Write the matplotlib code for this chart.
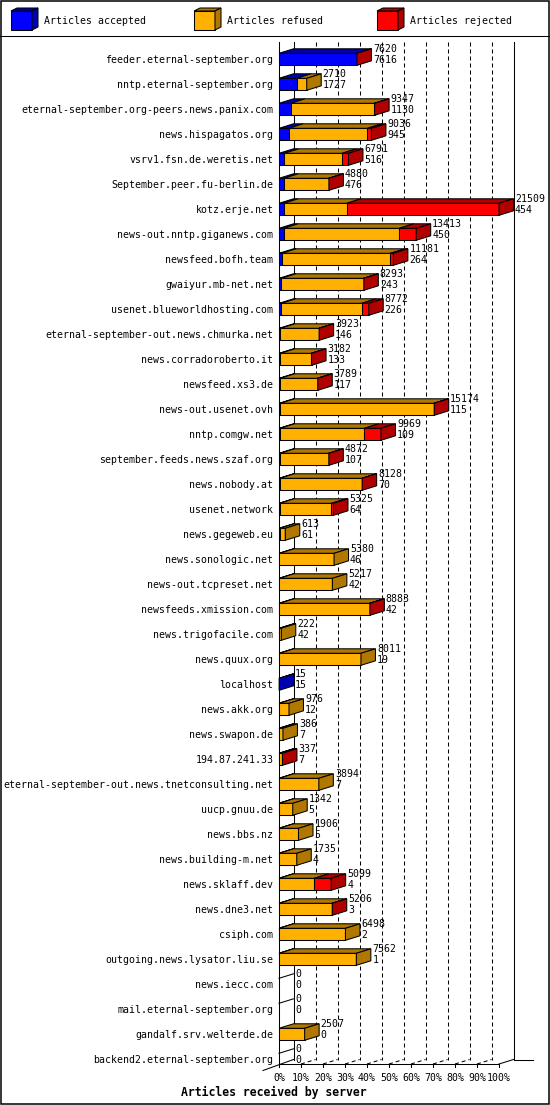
import matplotlib
matplotlib.use("Agg")
import matplotlib.pyplot as plt
from matplotlib.patches import Polygon, Rectangle

servers = [
    "feeder.eternal-september.org", "nntp.eternal-september.org",
    "eternal-september.org-peers.news.panix.com", "news.hispagatos.org",
    "vsrv1.fsn.de.weretis.net", "September.peer.fu-berlin.de", "kotz.erje.net",
    "news-out.nntp.giganews.com", "newsfeed.bofh.team", "gwaiyur.mb-net.net",
    "usenet.blueworldhosting.com", "eternal-september-out.news.chmurka.net",
    "news.corradoroberto.it", "newsfeed.xs3.de", "news-out.usenet.ovh",
    "nntp.comgw.net", "september.feeds.news.szaf.org", "news.nobody.at",
    "usenet.network", "news.gegeweb.eu", "news.sonologic.net",
    "news-out.tcpreset.net", "newsfeeds.xmission.com", "news.trigofacile.com",
    "news.quux.org", "localhost", "news.akk.org", "news.swapon.de",
    "194.87.241.33", "eternal-september-out.news.tnetconsulting.net",
    "uucp.gnuu.de", "news.bbs.nz", "news.building-m.net", "news.sklaff.dev",
    "news.dne3.net", "csiph.com", "outgoing.news.lysator.liu.se",
    "news.iecc.com", "mail.eternal-september.org", "gandalf.srv.welterde.de",
    "backend2.eternal-september.org",
]
total = [7620, 2710, 9347, 9036, 6791, 4880, 21509, 13413, 11181, 8293,
         8772, 3923, 3182, 3789, 15174, 9969, 4872, 8128, 5325, 613,
         5380, 5217, 8883, 222, 8011, 15, 976, 386, 337, 3894,
         1342, 1906, 1735, 5099, 5206, 6498, 7562, 0, 0, 2507, 0]
accepted = [7616, 1727, 1130, 945, 516, 476, 454, 450, 264, 243,
            226, 146, 133, 117, 115, 109, 107, 70, 64, 61,
            46, 42, 42, 42, 19, 15, 12, 7, 7, 7,
            5, 5, 4, 4, 3, 2, 1, 0, 0, 0, 0]
refused = [0, 983, 8187, 7701, 5655, 4379, 6165, 11303, 10627, 8020,
           7861, 3752, 3029, 3652, 15029, 8230, 4745, 8038, 5066, 552,
           5334, 5175, 8821, 180, 7992, 0, 964, 379, 320, 3887,
           1337, 1901, 1731, 3435, 5180, 6496, 7561, 0, 0, 2507, 0]
rejected = [4, 0, 30, 390, 620, 25, 14890, 1660, 290, 30,
            685, 25, 20, 20, 30, 1630, 20, 20, 195, 0,
            0, 0, 20, 0, 0, 0, 0, 0, 10, 0,
            0, 0, 0, 1660, 23, 0, 0, 0, 0, 0, 0]

series_names = ["Articles accepted", "Articles refused", "Articles rejected"]
front_colors = ["#0000ff", "#ffb000", "#ff0000"]
dark_colors = ["#0000b0", "#b07800", "#b00000"]
tick_labels = ["0%", "10%", "20%", "30%", "40%", "50%",
               "60%", "70%", "80%", "90%", "100%"]
x_title = "Articles received by server"

plt.rcParams['font.family'] = ['DejaVu Sans Mono']
plt.rcParams['font.size'] = 7.1
plt.rcParams['lines.scale_dashes'] = False

W, H = 550, 1105
LW = 0.75
fig = plt.figure(figsize=(W / 100, H / 100), dpi=100)

# background axes in pixel units for frame and legend
bg = fig.add_axes([0, 0, 1, 1])
bg.set_xlim(0, W)
bg.set_ylim(H, 0)
bg.axis('off')
bg.add_patch(Rectangle((0.7, 0.7), W - 1.6, H - 1.6, fill=False, lw=1.1, ec='black'))
bg.plot([0, W], [35.5, 35.5], color='black', lw=LW)

for k in range(3):
    x0 = 11 + 183 * k
    y0, y1 = 11, 30
    w, dx, dy = 21, 6, -3
    bg.add_patch(Polygon([(x0, y0), (x0 + w, y0), (x0 + w, y1), (x0, y1)],
                         fc=front_colors[k], ec='black', lw=LW))
    bg.add_patch(Polygon([(x0, y0), (x0 + w, y0), (x0 + w + dx, y0 + dy), (x0 + dx, y0 + dy)],
                         fc=dark_colors[k], ec='black', lw=LW))
    bg.add_patch(Polygon([(x0 + w, y0), (x0 + w, y1), (x0 + w + dx, y1 + dy), (x0 + w + dx, y0 + dy)],
                         fc=dark_colors[k], ec='black', lw=LW))
    bg.text(x0 + 33, 21, series_names[k], ha='left', va='center')

bg.text(274, 1092, x_title, ha='center', va='center', fontsize=8.3, fontweight='bold')

# data axes
n = len(servers)
xmax = max(total)
left_px, right_px, top_px, floor_px = 279, 499, 42, 1064
row0_px, row_px = 60, 25
ax = fig.add_axes([left_px / W, 1 - floor_px / H,
                   (right_px - left_px) / W, (floor_px - top_px) / H])
ax.set_xlim(0, xmax)
y_top = (top_px - row0_px) / row_px
y_floor = (floor_px - row0_px) / row_px
ax.set_ylim(y_floor, y_top)
ax.axis('off')
kx = xmax / (right_px - left_px)
ky = 1 / row_px
DX, DY = 14.5 * kx, -4.5 * ky
yb_back = y_floor + DY

line_kw = dict(color='black', lw=LW, clip_on=False)
dash_kw = dict(color='black', lw=LW, clip_on=False, dashes=(4 * 0.72, 3 * 0.72))

# walls, grid and floor
ax.plot([0, 0], [y_top, y_floor + 3 * ky], **line_kw)
ax.plot([DX, DX], [y_top, yb_back], **line_kw)
ax.plot([xmax + DX, xmax + DX], [y_top, yb_back], **line_kw)
for k in range(1, 10):
    xg = k * xmax / 10
    ax.plot([xg + DX, xg + DX], [y_top, yb_back], zorder=1, **dash_kw)
    ax.plot([xg, xg + DX], [y_floor, yb_back], zorder=1, **dash_kw)
ax.plot([0, xmax], [y_floor, y_floor], **line_kw)
ax.plot([xmax, xmax + DX], [y_floor, yb_back], **line_kw)
ax.plot([xmax + DX, xmax + DX + 19 * kx], [yb_back, yb_back], **line_kw)
ax.plot([-16 * kx, DX], [y_floor + 6.5 * ky, yb_back], **line_kw)
for k in range(11):
    xg = k * xmax / 10
    ax.plot([xg, xg], [y_floor, y_floor + 3 * ky], **line_kw)
    ax.text(xg, y_floor + 14 * ky, tick_labels[k], ha='center', va='center')

# bars
for i in range(n):
    yt = i - 6.7 * ky
    yb = i + 5.3 * ky
    x = 0
    last = None
    for s, vals in enumerate([accepted, refused, rejected]):
        w = vals[i]
        if w <= 0:
            continue
        ax.add_patch(Polygon([(x, yt), (x + w, yt), (x + w, yb), (x, yb)],
                             fc=front_colors[s], ec='black', lw=LW, zorder=3, clip_on=False))
        ax.add_patch(Polygon([(x, yt), (x + w, yt), (x + w + DX, yt + DY), (x + DX, yt + DY)],
                             fc=dark_colors[s], ec='black', lw=LW, zorder=3, clip_on=False))
        x += w
        last = s
    if last is None:
        ax.plot([0, DX], [yt, yt + DY], zorder=3, **line_kw)
    else:
        ax.add_patch(Polygon([(x, yt), (x, yb), (x + DX, yb + DY), (x + DX, yt + DY)],
                             fc=dark_colors[last], ec='black', lw=LW, zorder=3, clip_on=False))
    xl = x + DX + 1.5 * kx
    ax.text(xl, i - 11 * ky, str(total[i]), ha='left', va='center', zorder=4)
    ax.text(xl, i, str(accepted[i]), ha='left', va='center', zorder=4)
    ax.text(-5.5 * kx, i, servers[i], ha='right', va='center', zorder=4)

fig.savefig("out.png", dpi=100)
